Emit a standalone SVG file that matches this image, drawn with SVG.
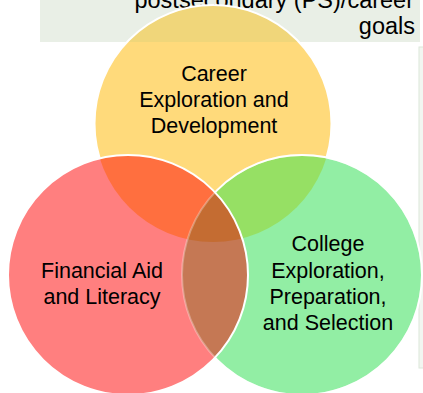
<svg xmlns="http://www.w3.org/2000/svg" width="423" height="393" viewBox="0 0 423 393">
  <style>
    .lbl { font-family: "Liberation Sans", Arial, sans-serif; font-size: 21.5px; fill: #000; text-anchor: middle; }
    .hdr { font-family: "Liberation Sans", Arial, sans-serif; font-size: 23.5px; fill: #000; text-anchor: end; }
    .ring { fill: none; stroke: #fff; stroke-width: 2; }
  </style>
  <defs>
    <clipPath id="cY"><circle cx="213" cy="123.5" r="118.5"/></clipPath>
    <clipPath id="cG"><circle cx="302" cy="275" r="120"/></clipPath>
    <clipPath id="cBand"><rect x="40" y="0" width="380" height="42"/></clipPath>
  </defs>

  <g id="header">
    <rect x="40" y="0" width="380" height="42" fill="#E9EFE6"/>
    <rect x="419" y="47" width="6" height="321" fill="#F2F6F1" stroke="#DCE7DA" stroke-width="1"/>
    <text class="hdr" x="414" y="8">postsecondary (PS)/career</text>
    <text class="hdr" x="415" y="34">goals</text>
  </g>

  <g id="node-career-shape">
    <circle cx="213" cy="123.5" r="118.5" fill="#FFDA7B"/>
    <circle cx="213" cy="123.5" r="118.5" fill="#F0D67A" clip-path="url(#cBand)"/>
    <circle class="ring" cx="213" cy="123.5" r="118.5"/>
  </g>

  <g id="node-college-shape">
    <circle cx="302" cy="275" r="120" fill="#92EEA4"/>
    <g clip-path="url(#cY)"><circle cx="302" cy="275" r="120" fill="#96E064"/></g>
    <circle class="ring" cx="302" cy="275" r="120"/>
  </g>

  <g id="node-financial-shape">
    <circle cx="128" cy="275" r="120" fill="#FF7F7F"/>
    <g clip-path="url(#cY)"><circle cx="128" cy="275" r="120" fill="#FF6F3F"/></g>
    <g clip-path="url(#cG)"><circle cx="128" cy="275" r="120" fill="#C57854"/></g>
    <g clip-path="url(#cY)"><g clip-path="url(#cG)"><circle cx="128" cy="275" r="120" fill="#C46C32"/></g></g>
    <circle cx="302" cy="275" r="120" fill="none" stroke="#fff" stroke-width="2" stroke-opacity="0.3"/>
    <circle class="ring" cx="128" cy="275" r="120"/>
  </g>

  <g id="connectors"></g>

  <g id="node-career">
    <text class="lbl" x="214" y="81">Career</text>
    <text class="lbl" x="214" y="107">Exploration and</text>
    <text class="lbl" x="214" y="133">Development</text>
  </g>
  <g id="node-financial">
    <text class="lbl" x="102" y="278">Financial Aid</text>
    <text class="lbl" x="102" y="304">and Literacy</text>
  </g>
  <g id="node-college">
    <text class="lbl" x="328" y="251">College</text>
    <text class="lbl" x="328" y="277.5">Exploration,</text>
    <text class="lbl" x="328" y="304">Preparation,</text>
    <text class="lbl" x="328" y="330">and Selection</text>
  </g>
</svg>
